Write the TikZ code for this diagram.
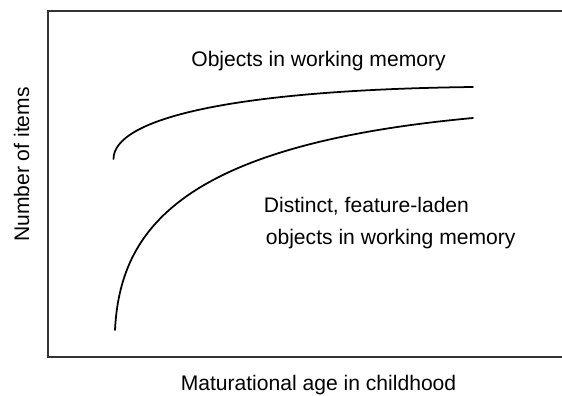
\documentclass[tikz,border=0pt]{standalone}
\usepackage{fontspec}
\setmainfont{Liberation Sans}

\begin{document}
\begin{tikzpicture}[font=\fontsize{12}{14.4}\selectfont,inner sep=0pt,
  frame/.style={line width=.7pt,black!80},
  curve/.style={line width=1pt,line cap=round}]
\useasboundingbox (0,0) rectangle (11.24,7.9);
% axes box, open to the right
\draw[frame] (11.24,7.68) -- (.96,7.68) -- (.96,.76) -- (11.24,.76);
\node[rotate=90,anchor=base] (ylab) at (.58,4.61) {Number of items};
\node[anchor=base] (xlab) at (6.37,.1) {Maturational age in childhood};
% the two growth curves
\draw[curve] (2.27,4.72) .. controls (2.27,5.5) and (4.5,6.1) .. (9.46,6.16);
\draw[curve] (2.3,1.3) .. controls (2.4,3.3) and (3.6,5) .. (9.46,5.54);
\node[anchor=base] (upper) at (6.37,6.57) {Objects in working memory};
\node[anchor=base west] (lower1) at (5.27,3.65) {Distinct, feature-laden};
\node[anchor=base west] (lower2) at (5.31,3.01) {objects in working memory};
\end{tikzpicture}
\end{document}
